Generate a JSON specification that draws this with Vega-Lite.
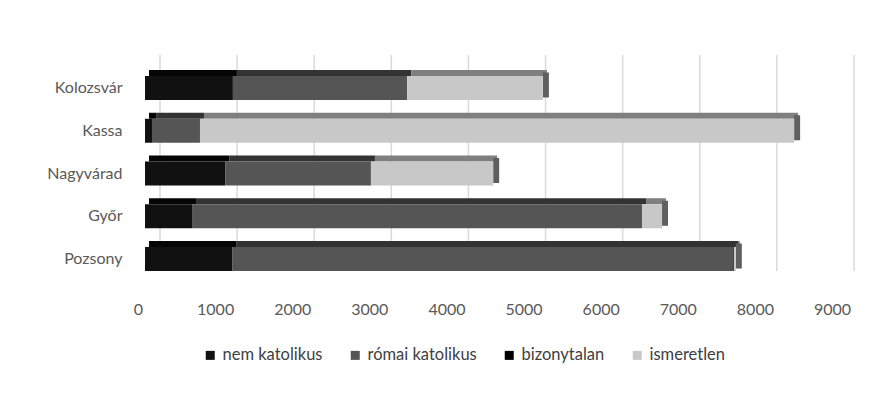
{
  "$schema": "https://vega.github.io/schema/vega-lite/v6.json",
  "width": 694,
  "height": 216,
  "autosize": {"type": "none"},
  "padding": {"left": 145, "top": 55, "right": 52, "bottom": 133},
  "background": "white",
  "config": {
    "view": {"stroke": null},
    "font": "Lato",
    "axis": {"labelFont": "Lato", "labelFontSize": 16, "labelColor": "#595959"},
    "legend": {"labelFont": "Lato", "labelFontSize": 16.5, "labelColor": "#404040"}
  },
  "datasets": {
    "bars": [
      {"city": "Kolozsvár", "cat": "nem katolikus", "k": 1, "v": 1140},
      {"city": "Kolozsvár", "cat": "római katolikus", "k": 2, "v": 2260},
      {"city": "Kolozsvár", "cat": "bizonytalan", "k": 3, "v": 0},
      {"city": "Kolozsvár", "cat": "ismeretlen", "k": 4, "v": 1760},
      {"city": "Kassa", "cat": "nem katolikus", "k": 1, "v": 100},
      {"city": "Kassa", "cat": "római katolikus", "k": 2, "v": 613},
      {"city": "Kassa", "cat": "bizonytalan", "k": 3, "v": 0},
      {"city": "Kassa", "cat": "ismeretlen", "k": 4, "v": 7705},
      {"city": "Nagyvárad", "cat": "nem katolikus", "k": 1, "v": 1040},
      {"city": "Nagyvárad", "cat": "római katolikus", "k": 2, "v": 1890},
      {"city": "Nagyvárad", "cat": "bizonytalan", "k": 3, "v": 0},
      {"city": "Nagyvárad", "cat": "ismeretlen", "k": 4, "v": 1585},
      {"city": "Győr", "cat": "nem katolikus", "k": 1, "v": 610},
      {"city": "Győr", "cat": "római katolikus", "k": 2, "v": 5835},
      {"city": "Győr", "cat": "bizonytalan", "k": 3, "v": 0},
      {"city": "Győr", "cat": "ismeretlen", "k": 4, "v": 260},
      {"city": "Pozsony", "cat": "nem katolikus", "k": 1, "v": 1130},
      {"city": "Pozsony", "cat": "római katolikus", "k": 2, "v": 6497},
      {"city": "Pozsony", "cat": "bizonytalan", "k": 3, "v": 10},
      {"city": "Pozsony", "cat": "ismeretlen", "k": 4, "v": 25}
    ],
    "ticks": [
      {"t": 0}, {"t": 1000}, {"t": 2000}, {"t": 3000}, {"t": 4000},
      {"t": 5000}, {"t": 6000}, {"t": 7000}, {"t": 8000}, {"t": 9000}
    ]
  },
  "layer": [
    {
      "data": {"name": "ticks"},
      "mark": {"type": "rule", "color": "#d9d9d9", "strokeWidth": 1.5, "xOffset": 15},
      "encoding": {
        "x": {"field": "t", "type": "quantitative", "scale": {"domain": [0, 9000], "nice": false},
          "axis": {"values": [0,1000,2000,3000,4000,5000,6000,7000,8000,9000], "format": "d", "grid": false, "domain": false, "ticks": false, "labelPadding": 30, "labelOffset": -7, "title": null, "labelFlush": false}}
      }
    },
    {
      "data": {"name": "bars"},
      "mark": {"type": "bar", "height": 6, "yOffset": -15, "xOffset": 4},
      "encoding": {
        "y": {"field": "city", "type": "nominal", "sort": ["Kolozsvár", "Kassa", "Nagyvárad", "Győr", "Pozsony"],
          "scale": {"paddingInner": 0.44, "paddingOuter": 0.246, "align": 1}},
        "x": {"field": "v", "type": "quantitative", "stack": "zero"},
        "order": {"field": "k", "type": "quantitative"},
        "color": {"field": "cat", "type": "nominal", "legend": null,
          "scale": {"domain": ["nem katolikus", "római katolikus", "bizonytalan", "ismeretlen"], "range": ["#050505", "#333333", "#000000", "#7f7f7f"]}}
      }
    },
    {
      "data": {"name": "bars"},
      "transform": [{"aggregate": [{"op": "sum", "field": "v", "as": "total"}], "groupby": ["city"]}],
      "mark": {"type": "tick", "orient": "vertical", "thickness": 6, "size": 25, "xOffset": 3, "yOffset": -3, "color": "#5f5f5f", "opacity": 1},
      "encoding": {
        "y": {"field": "city", "type": "nominal", "sort": ["Kolozsvár", "Kassa", "Nagyvárad", "Győr", "Pozsony"]},
        "x": {"field": "total", "type": "quantitative"}
      }
    },
    {
      "data": {"name": "bars"},
      "mark": {"type": "bar"},
      "encoding": {
        "y": {"field": "city", "type": "nominal", "sort": ["Kolozsvár", "Kassa", "Nagyvárad", "Győr", "Pozsony"],
          "axis": {"title": null, "domain": false, "ticks": false, "labelPadding": 23}},
        "x": {"field": "v", "type": "quantitative", "stack": "zero"},
        "order": {"field": "k", "type": "quantitative"},
        "color": {"field": "cat", "type": "nominal",
          "scale": {"domain": ["nem katolikus", "római katolikus", "bizonytalan", "ismeretlen"], "range": ["#111111", "#555555", "#000000", "#c8c8c8"]},
          "legend": {"title": null, "orient": "none", "legendX": 57, "legendY": 292, "direction": "horizontal", "symbolType": "square", "symbolSize": 81, "symbolStrokeWidth": 0, "labelOffset": 4, "columnPadding": 24}}
      }
    }
  ],
  "resolve": {"scale": {"color": "independent"}}
}
